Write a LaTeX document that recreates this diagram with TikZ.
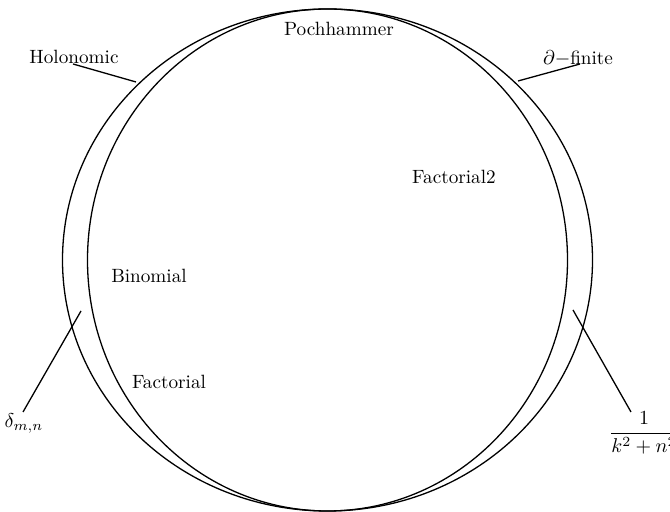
\documentclass[tikz,border=0pt]{standalone}
\begin{document}
\begin{tikzpicture}[x=0.5pt,y=-0.5pt,
  ring/.style={draw=black,line width=0.65pt},
  leader/.style={draw=black,line width=0.65pt},
  lbl/.style={inner sep=0pt,font=\fontsize{9.6}{11.5}\selectfont}]
\useasboundingbox (0,0) rectangle (670,512);
\clip (0,0) rectangle (670,512);
\draw[ring] (327.5,260) ellipse [x radius=132.5pt, y radius=125.5pt];
\draw[ring] (327.5,260) ellipse [x radius=120pt, y radius=125.5pt];
\node[lbl] (poch) at (339,29) {Pochhammer};
\node[lbl] (holo) at (74,57) {Holonomic};
\node[lbl] (dfin) at (578,58) {$\partial{-}$finite};
\node[lbl] (fac2) at (454,177) {Factorial2};
\node[lbl] (bino) at (149,276) {Binomial};
\node[lbl] (fact) at (169,382) {Factorial};
\node[lbl] (delta) at (24,423) {$\delta_{m,n}$};
\node[lbl] (frac) at (644,433) {$\displaystyle\frac{1}{k^2+n^2}$};
\coordinate (h1) at (73,64);  \coordinate (h2) at (136,82);
\coordinate (d1) at (518,81); \coordinate (d2) at (580,64);
\coordinate (e1) at (23,412); \coordinate (e2) at (81,311);
\coordinate (f1) at (573,310); \coordinate (f2) at (631,412);
\draw[leader] (h1) -- (h2);
\draw[leader] (d1) -- (d2);
\draw[leader] (e1) -- (e2);
\draw[leader] (f1) -- (f2);
\end{tikzpicture}
\end{document}
